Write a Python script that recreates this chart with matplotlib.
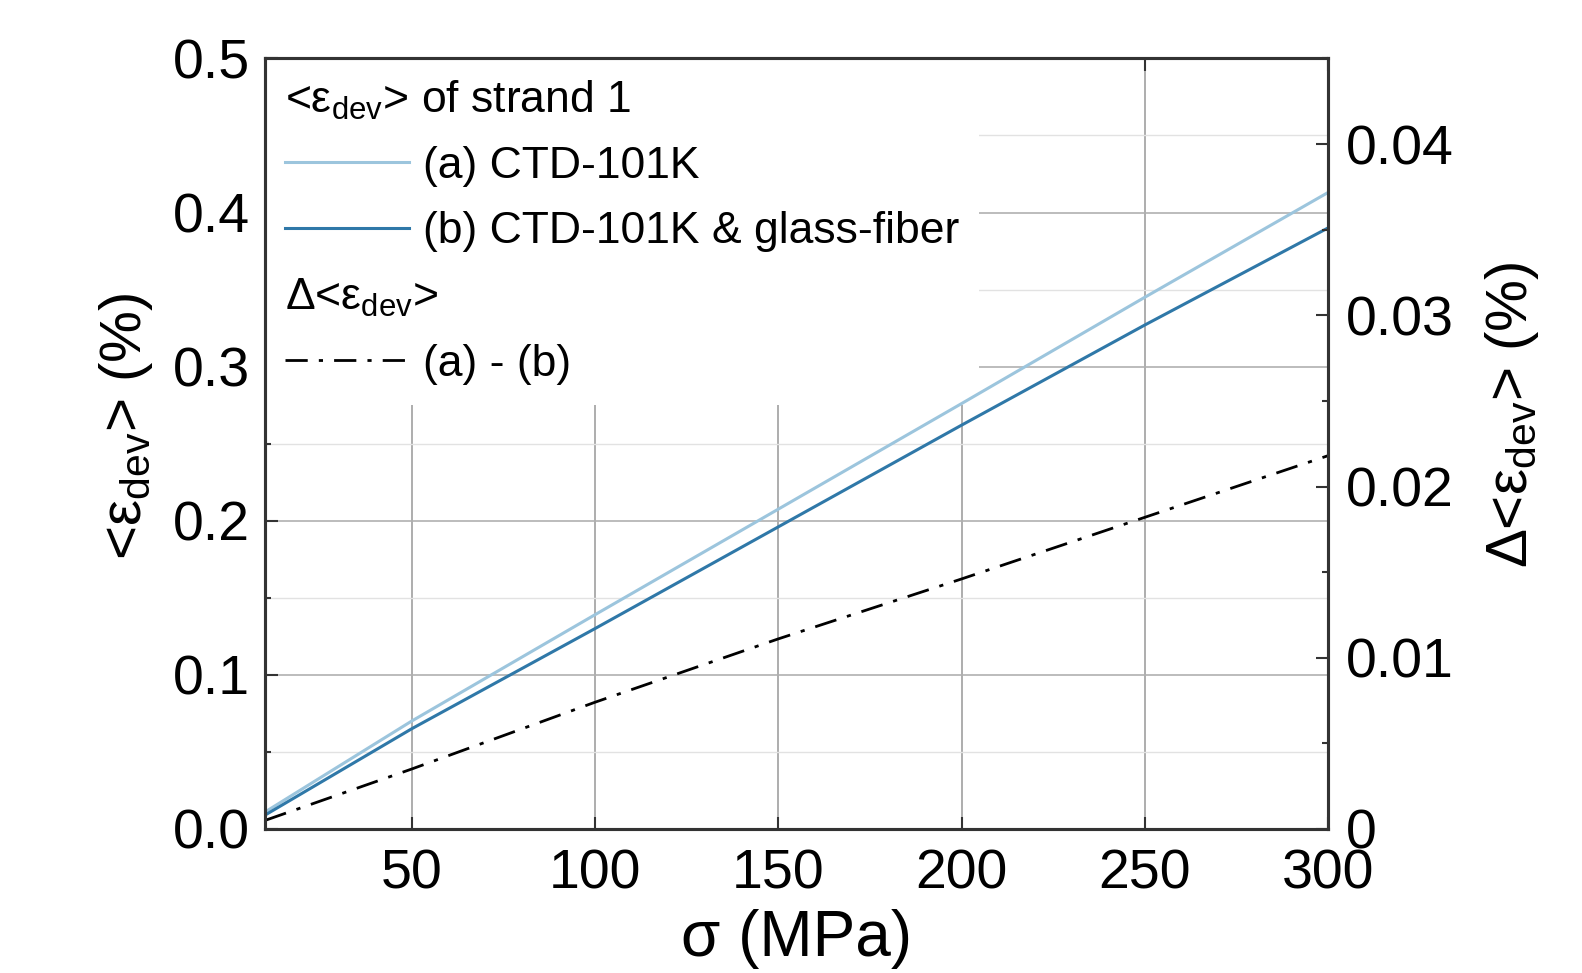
import numpy as np
import matplotlib
matplotlib.use("Agg")
import matplotlib.pyplot as plt
from matplotlib.lines import Line2D
from matplotlib.ticker import MultipleLocator, FuncFormatter

plt.rcParams["font.family"] = ["Liberation Sans", "DejaVu Sans"]
plt.rcParams["mathtext.fontset"] = "custom"
plt.rcParams["mathtext.rm"] = "Liberation Sans"

# values
stress = [10, 50, 100, 150, 200, 250, 300]                          # sigma (MPa)
eps_a = [0.011, 0.070, 0.139, 0.2075, 0.276, 0.345, 0.413]          # (a) CTD-101K
eps_b = [0.009, 0.065, 0.130, 0.196, 0.262, 0.327, 0.390]           # (b) CTD-101K & glass-fiber
eps_diff = [0.0005, 0.0035, 0.0074, 0.0111, 0.0146, 0.0182, 0.0218]  # (a) - (b), right axis

x_ticks = [50, 100, 150, 200, 250, 300]

c_a = "#9cc5dd"
c_b = "#2f78a8"
spine_c = "#333333"
dashdot = (0, (8, 4, 1.5, 4))

fig = plt.figure(figsize=(15.82, 9.73), dpi=100)
ax = fig.add_axes([0.1675, 0.148, 0.672, 0.792])
ax2 = ax.twinx()

ax.plot(stress, eps_a, color=c_a, lw=2.2)
ax.plot(stress, eps_b, color=c_b, lw=2.2)
ax2.plot(stress, eps_diff, color="black", lw=2.0, linestyle=dashdot)

ax.set_xlim(10, 300)
ax.set_ylim(0, 0.5)
ax2.set_ylim(0, 0.045)

ax.set_xticks(x_ticks)
ax.yaxis.set_major_locator(MultipleLocator(0.1))
ax.yaxis.set_minor_locator(MultipleLocator(0.05))
ax.yaxis.set_major_formatter(FuncFormatter(lambda v, p: f"{v:.1f}"))
ax2.yaxis.set_major_locator(MultipleLocator(0.01))
ax2.yaxis.set_minor_locator(MultipleLocator(0.005))
ax2.yaxis.set_major_formatter(FuncFormatter(lambda v, p: "0" if abs(v) < 1e-9 else f"{v:.2f}"))

ax.grid(True, which="major", axis="x", color="#a0a0a0", lw=1.2)
ax.grid(True, which="major", axis="y", color="#b0b0b0", lw=1.2)
ax.grid(True, which="minor", axis="y", color="#e2e2e2", lw=1.0)
ax.set_axisbelow(True)

ax.tick_params(axis="x", which="major", direction="in", length=9, width=1.5,
               top=True, labelsize=40, pad=14, colors=spine_c, labelcolor="black")
ax.tick_params(axis="y", which="major", direction="in", length=9, width=1.5,
               right=False, labelsize=40, pad=11, colors=spine_c, labelcolor="black")
ax.tick_params(axis="y", which="minor", direction="in", length=4.5, width=1.5,
               right=False, colors=spine_c)
ax2.tick_params(axis="y", which="major", direction="in", length=9, width=1.5,
                labelsize=40, pad=13, colors=spine_c, labelcolor="black")
ax2.tick_params(axis="y", which="minor", direction="in", length=4.5, width=1.5,
                colors=spine_c)

for a in (ax, ax2):
    for s in a.spines.values():
        s.set_linewidth(2.2)
        s.set_color(spine_c)

ax.set_xlabel("σ (MPa)", fontsize=46)
ax.set_ylabel("<ε$_\\mathregular{dev}$> (%)", fontsize=42)
ax2.set_ylabel("Δ<ε$_\\mathregular{dev}$> (%)", fontsize=42)
ax.xaxis.set_label_coords(0.5, -0.104)
ax.yaxis.set_label_coords(-0.103, 0.523)
ax2.yaxis.set_label_coords(1.146, 0.537)

# legend with two header rows; white box hides the grid, but sits under lines and spines
blank = Line2D([], [], linestyle="none")
handles = [
    blank,
    Line2D([], [], color=c_a, lw=2.2),
    Line2D([], [], color=c_b, lw=2.2),
    blank,
    Line2D([], [], color="black", lw=2.0, linestyle=dashdot),
]
labels = [
    "<ε$_\\mathregular{dev}$> of strand 1",
    "(a) CTD-101K",
    "(b) CTD-101K & glass-fiber",
    "Δ<ε$_\\mathregular{dev}$>",
    "(a) - (b)",
]
leg_fs = 32
hl, htp = 2.8, 0.3
leg = ax.legend(handles, labels, loc="upper left", bbox_to_anchor=(0, 1),
                fontsize=leg_fs, frameon=True, facecolor="white", edgecolor="none",
                framealpha=1, fancybox=False, borderaxespad=0.0, borderpad=0.45,
                handlelength=hl, handletextpad=htp, labelspacing=0.55)
leg.set_zorder(1.5)
shift = (hl + htp) * leg_fs * fig.dpi / 72.0
for i in (0, 3):
    leg.get_texts()[i].set_position((-shift, 0))

fig.savefig("out.png", dpi=100)
